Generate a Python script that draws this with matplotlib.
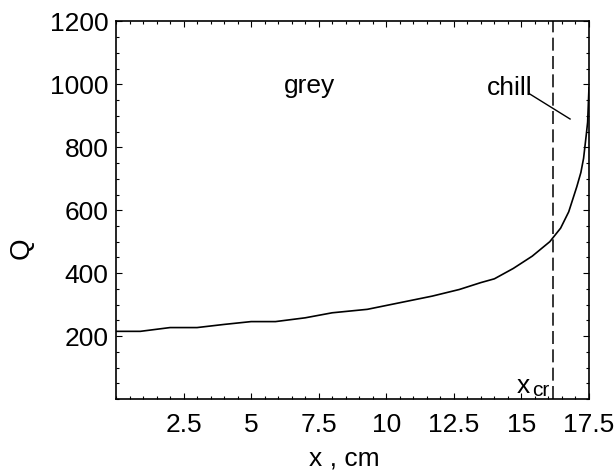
import matplotlib
matplotlib.use("Agg")
import matplotlib.pyplot as plt
from matplotlib.ticker import MultipleLocator, FixedLocator

plt.rcParams['font.family'] = ['Liberation Sans', 'DejaVu Sans']

# data
x_cm = [0, 0.9, 2.0, 3.0, 4.0, 5.0, 5.9, 7.0, 8.0, 9.3, 10.5, 11.7, 12.7,
        13.5, 14.0, 14.7, 15.4, 16.05, 16.45, 16.75, 17.05, 17.2, 17.3,
        17.4, 17.45, 17.5]
Q = [215, 215, 227, 227, 237, 246, 246, 258, 274, 285, 306, 327, 348,
     370, 382, 415, 454, 500, 543, 595, 675, 720, 765, 840, 880, 990]
x_cr = 16.16
x_ticks = [2.5, 5, 7.5, 10, 12.5, 15, 17.5]
x_ticklabels = ['2.5', '5', '7.5', '10', '12.5', '15', '17.5']
y_ticks = [200, 400, 600, 800, 1000, 1200]
y_ticklabels = ['200', '400', '600', '800', '1000', '1200']

FS = 19

fig = plt.figure(figsize=(6.15, 4.7), dpi=100)
ax = fig.add_axes([0.1886, 0.1511, 0.7691, 0.8032])

ax.plot(x_cm, Q, color='black', lw=1.2)
ax.axvline(x_cr, color='black', lw=1.1, linestyle=(0, (8.5, 3.5)))

ax.set_xlim(0, 17.5)
ax.set_ylim(0, 1200)
ax.xaxis.set_major_locator(FixedLocator(x_ticks))
ax.set_xticklabels(x_ticklabels)
ax.yaxis.set_major_locator(FixedLocator(y_ticks))
ax.set_yticklabels(y_ticklabels)
ax.xaxis.set_minor_locator(MultipleLocator(0.5))
ax.yaxis.set_minor_locator(MultipleLocator(50))

ax.tick_params(which='both', direction='in', top=True, right=True,
               width=0.8, color='black')
ax.tick_params(which='major', length=4)
ax.tick_params(which='minor', length=2.5)
ax.tick_params(axis='x', which='major', pad=10, labelsize=FS)
ax.tick_params(axis='y', which='major', pad=5.5, labelsize=FS)

for s in ax.spines.values():
    s.set_linewidth(1.2)

ax.set_xlabel('x , cm', fontsize=FS)
ax.xaxis.set_label_coords(0.482, -0.125)
ax.set_ylabel('Q', fontsize=FS + 1)
ax.yaxis.set_label_coords(-0.172, 0.40)

ax.text(7.15, 972, 'grey', fontsize=FS, ha='center', va='baseline')
ax.text(13.71, 966, 'chill', fontsize=FS, ha='left', va='baseline')
ax.plot([15.3, 16.8], [970, 890], color='black', lw=1.0)
ax.text(14.82, 19, 'x', fontsize=FS, ha='left', va='baseline')
ax.text(15.38, 9, 'cr', fontsize=FS - 4, ha='left', va='baseline')

fig.savefig('out.png', dpi=100)
